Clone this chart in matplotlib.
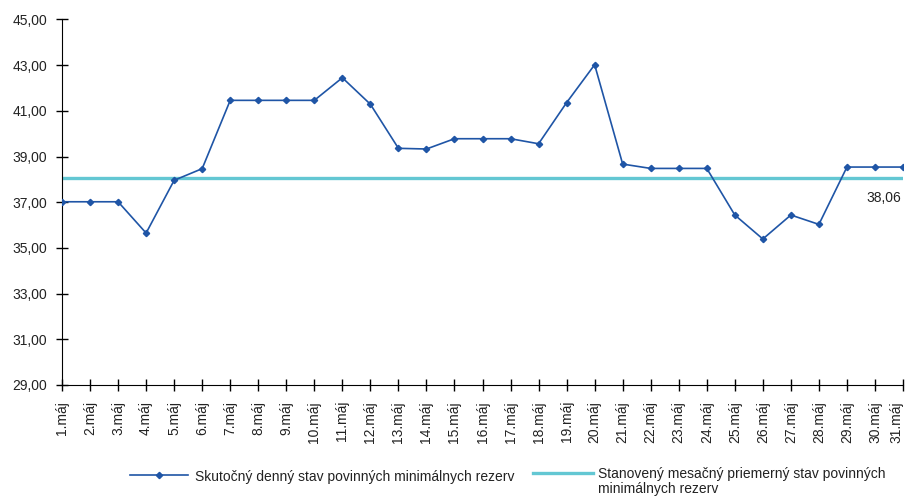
#Graf dennych stavov povinnych minimalnych rezerv za maj
import numpy as np # Pre polia
import matplotlib
matplotlib.use('Agg')
import matplotlib.pyplot as plt #Pre grafy
from matplotlib.lines import Line2D

plt.rcParams['font.family'] = ['Liberation Sans', 'DejaVu Sans']

#Data odcitane z obrazku
dni = list(range(1, 32))
popisky = [str(d) + '.máj' for d in dni]
skutocny_stav = [37.02, 37.02, 37.02, 35.65, 37.96, 38.47, 41.46, 41.46, 41.46, 41.46,
                 42.45, 41.29, 39.36, 39.33, 39.78, 39.78, 39.78, 39.56, 41.36, 43.02,
                 38.67, 38.48, 38.48, 38.48, 36.44, 35.39, 36.44, 36.03, 38.54, 38.54, 38.54]
priemer = 38.06
y_ticky = [29, 31, 33, 35, 37, 39, 41, 43, 45]
legenda = ['Skutočný denný stav povinných minimálnych rezerv',
           'Stanovený mesačný priemerný stav povinných\nminimálnych rezerv']

modra = '#1f55a6'
tyrkys = '#63c7d3'
W, H = 908, 497

fig = plt.figure(figsize=(9.08, 4.97), dpi=100)
ax = fig.add_axes([0.0683, 0.2254, 0.9262, 0.7354])

ax.plot(dni, [priemer] * len(dni), color=tyrkys, linewidth=2.4, zorder=2)
ax.plot(dni, skutocny_stav, color=modra, linewidth=1.2, marker='D', markersize=3.2, zorder=3)

ax.text(dni[-1] - 0.05, priemer - 0.55, '38,06', ha='right', va='top', fontsize=10, color='#222222')

ax.set_xlim(dni[0], dni[-1])
ax.set_ylim(29, 45)
ax.set_yticks(y_ticky)
ax.set_yticklabels([('%.2f' % v).replace('.', ',') for v in y_ticky], fontsize=10, color='#222222')
ax.set_xticks(dni)
ax.set_xticklabels(popisky, rotation=90, fontsize=10, color='#222222', va='top', ha='center')
ax.get_xticklabels()[-1].set_ha('right') #posledny popis nech sa zmesti do obrazku

ax.spines['top'].set_visible(False)
ax.spines['right'].set_visible(False)
ax.tick_params(axis='both', direction='inout', length=9, width=1, color='black')
ax.tick_params(axis='y', pad=6)
ax.tick_params(axis='x', pad=7)

#Legenda rucne, aby prvy riadok druhej polozky sedel s prvou polozkou
y_leg = 1 - 475 / H
fig.add_artist(Line2D([130 / W, 188 / W], [y_leg, y_leg], transform=fig.transFigure,
                      color=modra, linewidth=1.2))
fig.add_artist(Line2D([159 / W], [y_leg], transform=fig.transFigure,
                      color=modra, marker='D', markersize=3.2))
fig.text(195 / W, y_leg, legenda[0], ha='left', va='center_baseline', fontsize=10, color='#222222')
fig.add_artist(Line2D([533 / W, 593 / W], [y_leg + 0.004, y_leg + 0.004], transform=fig.transFigure,
                      color=tyrkys, linewidth=2.4))
fig.text(598 / W, y_leg + 0.016, legenda[1], ha='left', va='top', fontsize=10, color='#222222',
         linespacing=1.1)

fig.savefig('out.png', dpi=100)
